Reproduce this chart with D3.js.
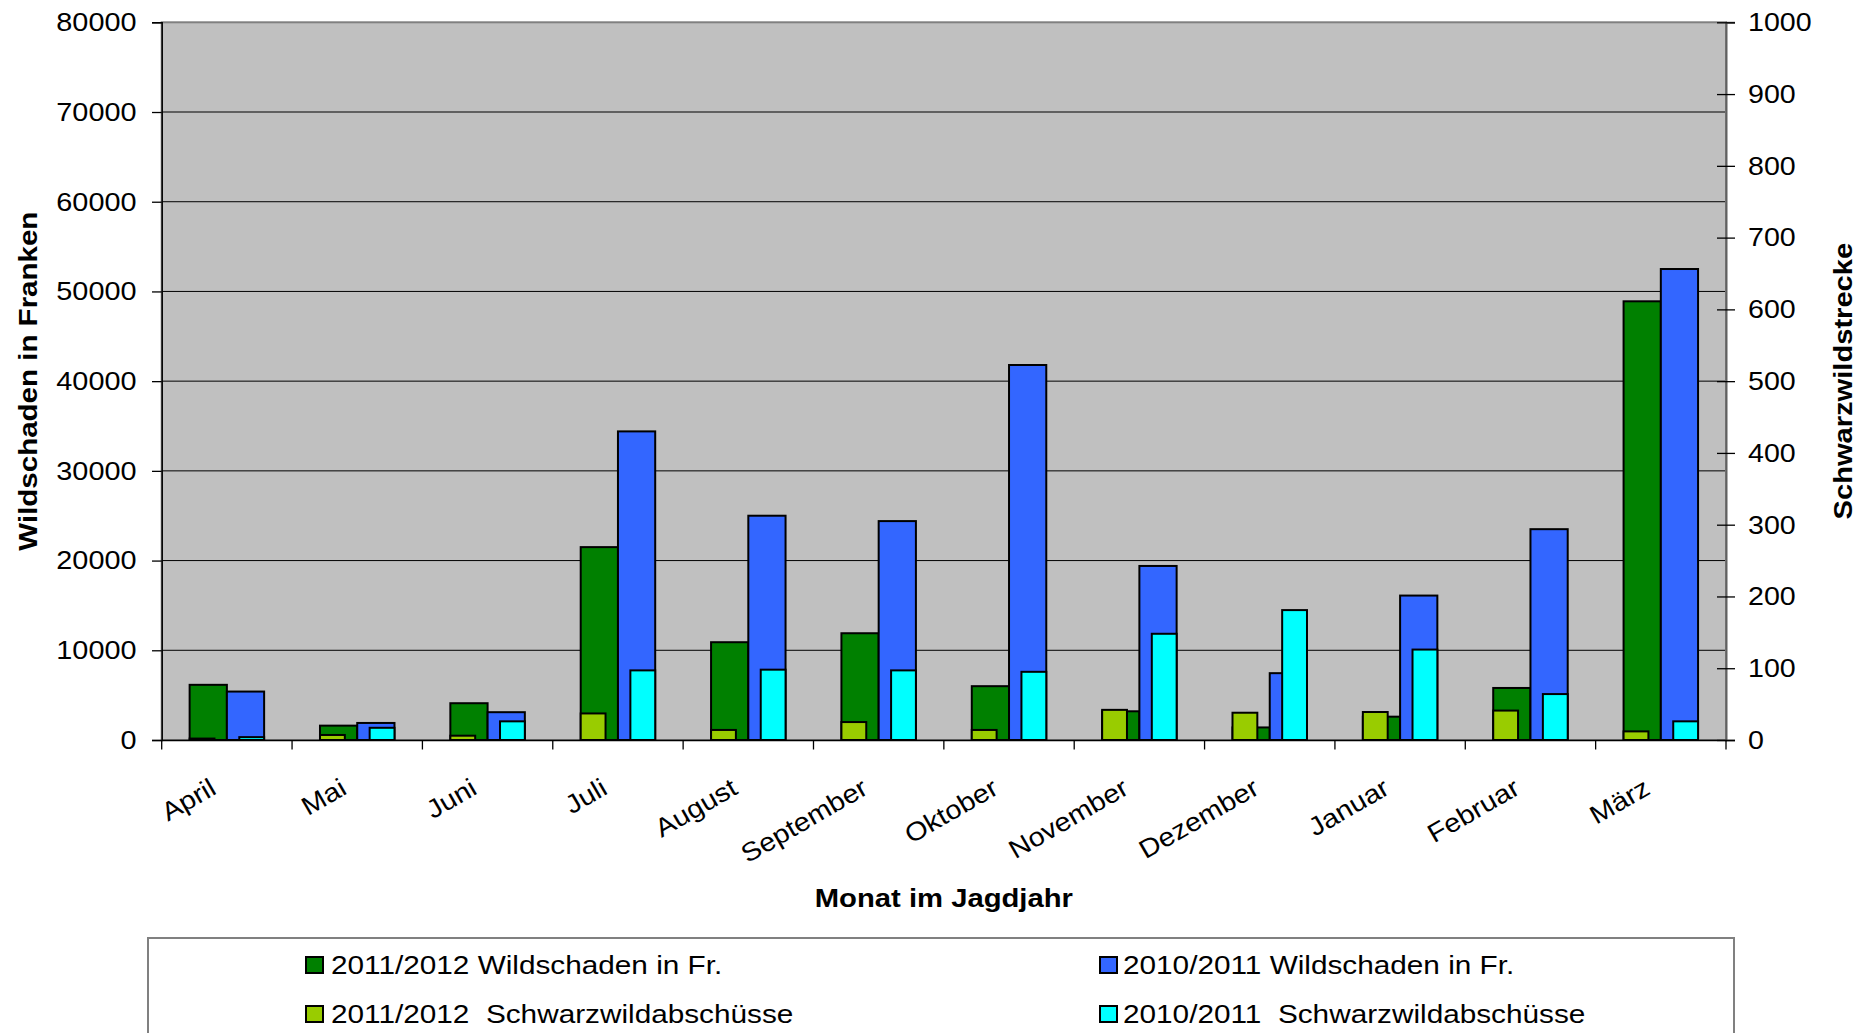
<!DOCTYPE html>
<html>
<head>
<meta charset="utf-8">
<script src="https://cdn.jsdelivr.net/npm/d3@7/dist/d3.min.js"></script>
<style>
  html, body { margin: 0; padding: 0; background: #ffffff; }
  svg { display: block; font-family: "Liberation Sans", Arial, sans-serif; }
</style>
</head>
<body>
<svg id="chart" width="1872" height="1033"></svg>
<script>
// ---- data ----
const months = ["April","Mai","Juni","Juli","August","September","Oktober","November","Dezember","Januar","Februar","März"];
const damage1112 = [6150,1600,4100,21500,10900,11900,6000,3200,1400,2600,5800,48900];
const damage1011 = [5400,1900,3100,34400,25000,24400,41800,19400,7450,16100,23500,52500];
const shots1112 = [2,7,6,37,14,25,14,42,38,39,41,12];
const shots1011 = [4,17,26,97,98,97,95,148,181,126,64,26];
const leftTicks = [0,10000,20000,30000,40000,50000,60000,70000,80000];
const rightTicks = [0,100,200,300,400,500,600,700,800,900,1000];
const seriesNames = ["2011/2012 Wildschaden in Fr.","2010/2011 Wildschaden in Fr.","2011/2012  Schwarzwildabschüsse","2010/2011  Schwarzwildabschüsse"];
const seriesColors = ["#008000","#3366FF","#99CC00","#00FFFF"];
const leftTitle = "Wildschaden in Franken";
const rightTitle = "Schwarzwildstrecke";
const xTitle = "Monat im Jagdjahr";

// ---- layout ----
const L = 161.7, R = 1726, T = 22.3, B = 740;
const svg = d3.select("#chart");

const x = d3.scaleBand().domain(months).range([L, R]).padding(0);
const xPrim = d3.scaleBand().domain([0,1]).range([0, x.bandwidth()]).paddingInner(0).paddingOuter(0.75);
const xSec = d3.scaleBand().domain([0,1]).range([xPrim(0), xPrim(1) + xPrim.bandwidth()]).paddingInner(0.5).paddingOuter(0);
const y = d3.scaleLinear().domain([0, 80000]).range([B, T]);
const y2 = d3.scaleLinear().domain([0, 1000]).range([B, T]);

// plot background
svg.append("rect").attr("x", L).attr("y", T).attr("width", R - L).attr("height", B - T)
  .attr("fill", "#C0C0C0");

// gridlines
svg.append("g").selectAll("line").data(leftTicks.filter(d => d > 0 && d < 80000)).join("line")
  .attr("x1", L).attr("x2", R).attr("y1", d => y(d)).attr("y2", d => y(d))
  .attr("stroke", "#000").attr("stroke-width", 1);

// plot border
svg.append("rect").attr("x", L).attr("y", T).attr("width", R - L).attr("height", B - T)
  .attr("fill", "none").attr("stroke", "#808080").attr("stroke-width", 2);

// bars
const primary = [damage1112, damage1011];
const secondary = [shots1112, shots1011];
primary.forEach((vals, s) => {
  svg.append("g").selectAll("rect").data(months).join("rect")
    .attr("x", (m) => x(m) + xPrim(s))
    .attr("width", xPrim.bandwidth())
    .attr("y", (m, i) => y(vals[i]))
    .attr("height", (m, i) => B - y(vals[i]))
    .attr("fill", seriesColors[s]).attr("stroke", "#000").attr("stroke-width", 2);
});
secondary.forEach((vals, s) => {
  svg.append("g").selectAll("rect").data(months).join("rect")
    .attr("x", (m) => x(m) + xSec(s))
    .attr("width", xSec.bandwidth())
    .attr("y", (m, i) => y2(vals[i]))
    .attr("height", (m, i) => B - y2(vals[i]))
    .attr("fill", seriesColors[s + 2]).attr("stroke", "#000").attr("stroke-width", 2);
});

// left axis
const gL = svg.append("g").attr("transform", `translate(${L},0)`)
  .call(d3.axisLeft(y).tickValues(leftTicks).tickSize(9.7).tickPadding(13).tickFormat(d3.format("d")));
gL.select(".domain").attr("stroke", "#000").attr("stroke-width", 1.5);
gL.selectAll(".tick line").attr("stroke", "#000").attr("stroke-width", 1.3);
gL.selectAll("text").attr("font-size", 26).attr("fill", "#000")
  .attr("font-family", "'Liberation Sans', Arial, sans-serif")
  .attr("transform", "scale(1.11,1)");

// right axis
const gR = svg.append("g").attr("transform", `translate(${R},0)`)
  .call(d3.axisRight(y2).tickValues(rightTicks).tickSize(9).tickPadding(11).tickFormat(d3.format("d")));
gR.select(".domain").attr("stroke", "#606060").attr("stroke-width", 2);
gR.selectAll(".tick line").attr("x1", -9).attr("stroke", "#000").attr("stroke-width", 1.3);
gR.selectAll("text").attr("font-size", 26).attr("fill", "#000")
  .attr("font-family", "'Liberation Sans', Arial, sans-serif")
  .attr("transform", "scale(1.1,1)");

// bottom axis
const gB = svg.append("g").attr("transform", `translate(0,${B})`)
  .call(d3.axisBottom(x).tickSize(0).tickFormat(""));
gB.select(".domain").attr("stroke", "#000").attr("stroke-width", 1.5);
const bounds = months.map(m => x(m)).concat([x(months[months.length - 1]) + x.bandwidth()]);
gB.append("g").selectAll("line").data(bounds).join("line")
  .attr("x1", d => d).attr("x2", d => d).attr("y1", 0).attr("y2", 9.5)
  .attr("stroke", "#000").attr("stroke-width", 1.3);

// category labels
svg.append("g").selectAll("text").data(months).join("text")
  .attr("text-anchor", "end")
  .attr("font-size", 26)
  .attr("fill", "#000")
  .attr("transform", m => `translate(${x(m) + x.bandwidth() / 2 - 9},793) rotate(-30) scale(1.11,1)`)
  .text(m => m);

// axis titles
svg.append("text").attr("text-anchor", "middle").attr("font-size", 26).attr("font-weight", "bold")
  .attr("transform", `translate(${(L + R) / 2},906.5) scale(1.125,1)`).text(xTitle);
svg.append("text").attr("text-anchor", "middle").attr("font-size", 26).attr("font-weight", "bold")
  .attr("transform", `translate(36.5,${(T + B) / 2}) rotate(-90) scale(1.135,1)`).text(leftTitle);
svg.append("text").attr("text-anchor", "middle").attr("font-size", 26).attr("font-weight", "bold")
  .attr("transform", `translate(1852,${(T + B) / 2}) rotate(-90) scale(1.12,1)`).text(rightTitle);

// legend
svg.append("rect").attr("x", 148).attr("y", 938).attr("width", 1586).attr("height", 130)
  .attr("fill", "#fff").attr("stroke", "#808080").attr("stroke-width", 2);
const legendPos = [
  {sx: 306, tx: 331, by: 974},
  {sx: 1100, tx: 1123, by: 974},
  {sx: 306, tx: 331, by: 1023},
  {sx: 1100, tx: 1123, by: 1023}
];
const lg = svg.append("g").selectAll("g").data(seriesNames).join("g");
lg.append("rect")
  .attr("x", (d, i) => legendPos[i].sx).attr("y", (d, i) => legendPos[i].by - 17)
  .attr("width", 17).attr("height", 16)
  .attr("fill", (d, i) => seriesColors[i]).attr("stroke", "#000").attr("stroke-width", 2);
lg.append("text")
  .attr("font-size", 25).attr("fill", "#000")
  .attr("transform", (d, i) => `translate(${legendPos[i].tx},${legendPos[i].by}) scale(1.19,1)`)
  .attr("xml:space", "preserve")
  .style("white-space", "pre")
  .text(d => d);
</script>
</body>
</html>
